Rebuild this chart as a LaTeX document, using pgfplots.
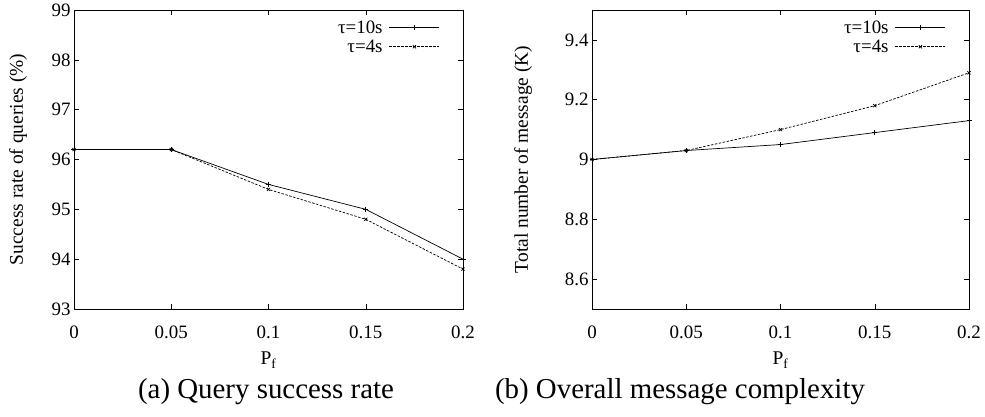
\documentclass[border=0pt]{standalone}
\usepackage{fontspec}
\setmainfont{Liberation Serif}
\usepackage{pgfplots}
\pgfplotsset{compat=1.18}
\pgfplotsset{gp/.style={
  scale only axis, height=299bp,
  xmin=0, xmax=0.2, xtick={0,0.05,0.1,0.15,0.2},
  tick align=inside, major tick length=5bp,
  tick style={black, line width=0.5bp},
  axis line style={line width=0.8bp},
  every tick label/.append style={font=\fontsize{19}{19}\selectfont},
  every x tick label/.append style={yshift=-13bp},
  /pgf/number format/assume math mode=true,
  /pgf/number format/fixed,
  scaled ticks=false,
  label style={font=\fontsize{19.5}{20}\selectfont},
  xlabel={P\textsubscript{f}},
  xlabel style={at={(axis description cs:0.5,-0.187)}, anchor=base},
  legend style={draw=none, fill=none, font=\fontsize{19}{20}\selectfont,
    at={(1,1)}, anchor=north east, xshift=-22bp, yshift=-8bp,
    row sep=2bp, column sep=5bp, inner sep=1bp,
    nodes={inner sep=1.5bp}},
  legend cell align=right,
  legend plot pos=right,
  legend image code/.code={\draw[mark repeat=2,mark phase=2,#1] plot coordinates {(0bp,0bp)(25bp,0bp)(50bp,0bp)};},
},
ten/.style={black, solid, line width=0.7bp, mark=+, mark size=2.5bp},
four/.style={black, dash pattern=on 2.5bp off 1.5bp, line width=0.7bp, mark=x, mark size=2.2bp, mark options={solid}},
}
\begin{document}
\begin{tikzpicture}
\useasboundingbox (0,0) rectangle (985bp,417bp);
\begin{axis}[gp, at={(74bp,108bp)}, anchor=south west, width=389bp,
  ymin=93, ymax=99, ytick={93,94,95,96,97,98,99},
  ylabel={Success rate of queries (\%)},
  ylabel style={at={(axis description cs:-0.144,0.5)}, anchor=center}]
\addplot[ten] coordinates {(0,96.2) (0.05,96.2) (0.1,95.5) (0.15,95.0) (0.2,94.0)};
\addlegendentry{τ=10s}
\addplot[four] coordinates {(0,96.2) (0.05,96.2) (0.1,95.4) (0.15,94.8) (0.2,93.8)};
\addlegendentry{τ=4s}
\end{axis}
\begin{axis}[gp, at={(592bp,108bp)}, anchor=south west, width=377bp,
  ymin=8.5, ymax=9.5, ytick={8.6,8.8,9,9.2,9.4},
  ylabel={Total number of message (K)},
  ylabel style={at={(axis description cs:-0.183,0.5)}, anchor=center}]
\addplot[ten] coordinates {(0,9.0) (0.05,9.03) (0.1,9.05) (0.15,9.09) (0.2,9.13)};
\addlegendentry{τ=10s}
\addplot[four] coordinates {(0,9.0) (0.05,9.03) (0.1,9.10) (0.15,9.18) (0.2,9.29)};
\addlegendentry{τ=4s}
\end{axis}
\node[font=\fontsize{29}{29}\selectfont] at (266bp,25bp) {(a) Query success rate};
\node[font=\fontsize{29}{29}\selectfont] at (680bp,25bp) {(b) Overall message complexity};
\end{tikzpicture}
\end{document}
